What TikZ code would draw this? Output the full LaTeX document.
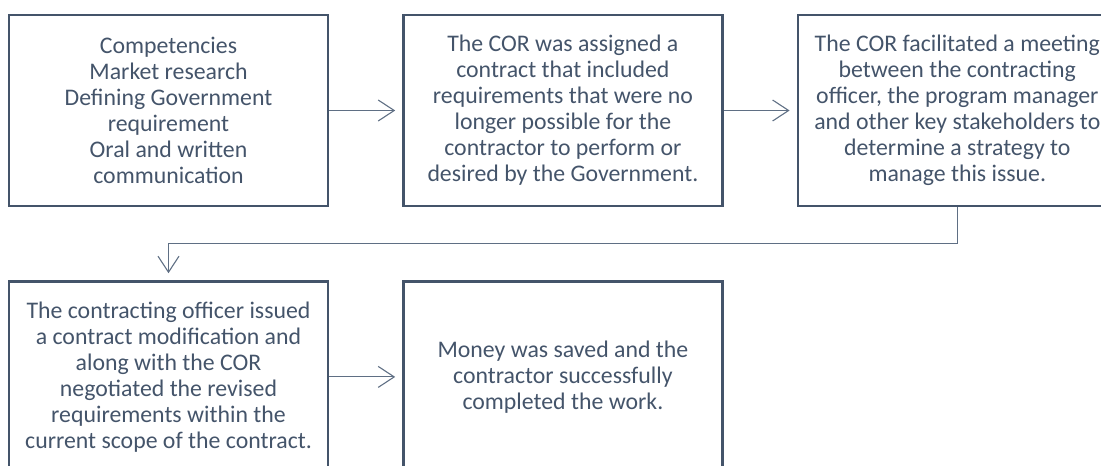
\documentclass[tikz,border=0pt]{standalone}
\usepackage{fontspec}
\setmainfont{Carlito}
\usetikzlibrary{arrows.meta,positioning}
\definecolor{slate}{HTML}{44546A}
\definecolor{wire}{HTML}{5F6F84}

\begin{document}
\begin{tikzpicture}[x=1pt,y=-1pt,>={Straight Barb[length=16pt,width=21pt]},
	blk/.style={draw=slate,line width=2.4pt,minimum width=319pt,minimum height=191pt,inner sep=0pt,text=slate,align=center,font=\fontsize{23.8}{26}\selectfont},
	link/.style={->,draw=wire,line width=1.1pt,shorten >=7pt}]
	\useasboundingbox (0,0) rectangle (1101,466);

	% top row
	\node[blk] (comp) at (168.5,110.5) {Competencies\\Market research\\Defining Government\\requirement\\Oral and written\\communication};
	\node[blk,right=73pt of comp] (assign) {The COR was assigned a\\contract that included\\requirements that were no\\longer possible for the\\contractor to perform or\\desired by the Government.};
	\node[blk,right=73pt of assign] (meet) {The COR facilitated a meeting\\between the contracting\\officer, the program manager\\and other key stakeholders to\\determine a strategy to\\manage this issue.};

	% bottom row
	\node[blk,below=73pt of comp] (modif) {The contracting officer issued\\a contract modification and\\along with the COR\\negotiated the revised\\requirements within the\\current scope of the contract.};
	\node[blk,right=73pt of modif] (saved) {Money was saved and the\\contractor successfully\\completed the work.};

	\draw[link] (comp) -- (assign);
	\draw[link] (assign) -- (meet);
	\draw[link] (meet.south) -- ++(0,36) -| (modif.north);
	\draw[link] (modif) -- (saved);
\end{tikzpicture}
\end{document}
